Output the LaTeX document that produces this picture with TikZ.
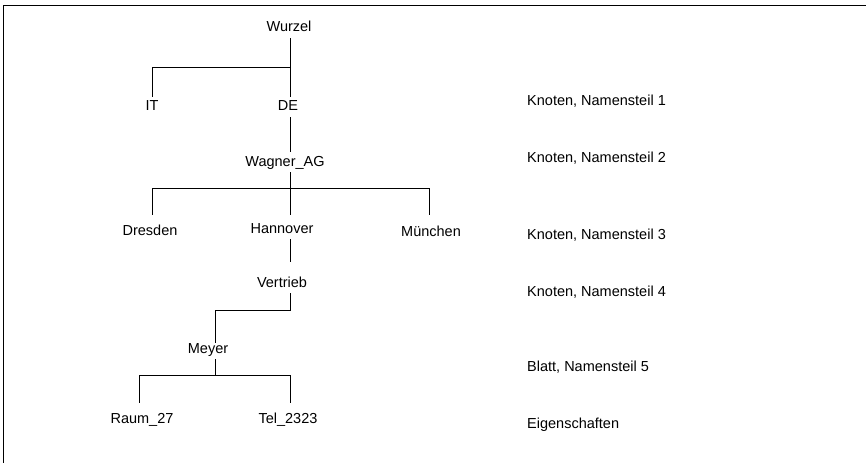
\documentclass[tikz,border=0pt]{standalone}
\usepackage{fontspec}
\setmainfont{Liberation Sans}
\begin{document}
\begin{tikzpicture}[x=1pt,y=-1pt,
  lbl/.style={anchor=base, font=\fontsize{14.5}{17}\selectfont, text height=11pt, text depth=3pt, inner xsep=0pt, inner ysep=3pt},
  desc/.style={lbl, anchor=base west},
  conn/.style={line width=1pt, draw=black}]
\useasboundingbox (0,0) rectangle (866,465);
\draw[conn] (866,6) -- (3.5,6) -- (3.5,463);
% tree nodes
\node[lbl] (wurzel) at (289,32) {Wurzel};
\node[lbl] (it) at (152,111) {IT};
\node[lbl] (de) at (288,111) {DE};
\node[lbl] (wagner) at (285,166) {Wagner\_AG};
\node[lbl] (dresden) at (150,235) {Dresden};
\node[lbl] (hannover) at (282,233) {Hannover};
\node[lbl] (muenchen) at (431,236) {München};
\node[lbl] (vertrieb) at (282,287) {Vertrieb};
\node[lbl] (meyer) at (208,353) {Meyer};
\node[lbl] (raum) at (142,423) {Raum\_27};
\node[lbl] (tel) at (288,423) {Tel\_2323};
% level descriptions
\node[desc] (l1) at (527,106) {Knoten, Namensteil 1};
\node[desc] (l2) at (527,163) {Knoten, Namensteil 2};
\node[desc] (l3) at (527,239) {Knoten, Namensteil 3};
\node[desc] (l4) at (527,296) {Knoten, Namensteil 4};
\node[desc] (l5) at (527,371) {Blatt, Namensteil 5};
\node[desc] (l6) at (527,428) {Eigenschaften};
% junction coordinates
\coordinate (spine) at (290,0);
\coordinate (mx) at (215,0);
\coordinate (j1) at (290,68);
\coordinate (bl) at (152,188);
\coordinate (br) at (429,188);
\coordinate (j3) at (290,310);
\coordinate (j4) at (215,375);
\coordinate (rl) at (139,375);
\coordinate (rr) at (290,375);
% connectors
\draw[conn] (wurzel.south -| spine) -- (de.north -| spine);
\draw[conn] (j1) -| (it.north);
\draw[conn] (de.south -| spine) -- (wagner.north -| spine);
\draw[conn, shorten >=4pt] (wagner.south -| spine) -- (hannover.north -| spine);
\draw[conn] (bl) -- (br);
\draw[conn, shorten >=6pt] (bl) -- (dresden.north -| bl);
\draw[conn, shorten >=7pt] (br) -- (muenchen.north -| br);
\draw[conn, shorten >=11pt] (hannover.south -| spine) -- (vertrieb.north -| spine);
\draw[conn, shorten >=-4pt] (vertrieb.south -| spine) -- (j3) -| (meyer.north -| mx);
\draw[conn] (meyer.south -| mx) -- (j4);
\draw[conn] (rl) -- (rr);
\draw[conn, shorten >=6pt] (rl) -- (raum.north -| rl);
\draw[conn, shorten >=6pt] (rr) -- (tel.north -| rr);
\end{tikzpicture}
\end{document}
